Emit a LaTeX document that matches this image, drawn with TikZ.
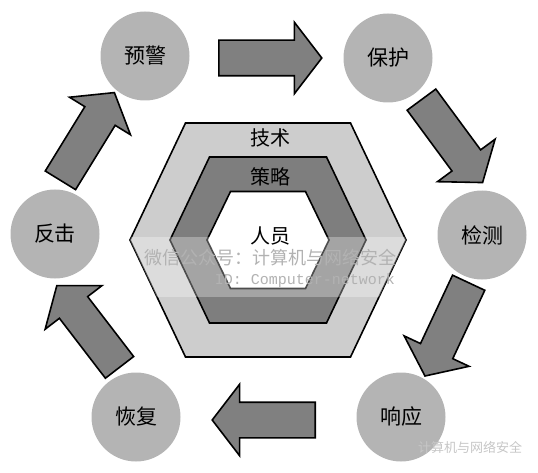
\documentclass[tikz,border=0pt]{standalone}
\usepackage{fontspec}
\setmainfont{Noto Sans CJK SC}
\newfontfamily\monofnt{Liberation Mono}
\usetikzlibrary{shapes.arrows}
\definecolor{stagegray}{HTML}{B4B4B4}
\definecolor{outergray}{HTML}{CDCDCD}
\definecolor{midgray}{HTML}{7E7E7E}
\definecolor{arrowgray}{HTML}{808080}
\tikzset{
   stage/.style={circle,fill=stagegray,minimum size=89,inner sep=0pt,font=\fontsize{21}{25}\selectfont},
   blockarrow/.style={single arrow,draw=black,line width=1.6,fill=arrowgray,minimum height=103,
      single arrow head extend=18,single arrow tip angle=105,inner xsep=0pt,inner ysep=17,anchor=tail},
   layer/.style={draw=black,line width=1.6,line join=miter},
   layerlabel/.style={font=\fontsize{20}{24}\selectfont},
}
\begin{document}
\begin{tikzpicture}[x=1pt,y=1pt]
   \useasboundingbox (0,0) rectangle (538,472);
   % hexagons
   \draw[layer,fill=outergray] (130,232) -- (185.5,349) -- (350.5,349) -- (406,232) -- (350.5,115) -- (185.5,115) -- cycle;
   \draw[layer,fill=midgray] (170,232) -- (209.5,315) -- (326.5,315) -- (366,232) -- (326.5,149) -- (209.5,149) -- cycle;
   \draw[layer,fill=white] (207,232) -- (230.5,280.5) -- (305.5,280.5) -- (329,232) -- (305.5,183.5) -- (230.5,183.5) -- cycle;
   % watermark band
   \begin{scope}
      \clip (130,232) -- (185.5,349) -- (350.5,349) -- (406,232) -- (350.5,115) -- (185.5,115) -- cycle;
      \fill[white,opacity=0.3] (120,175) rectangle (420,235);
   \end{scope}
   \node[layerlabel] (jishu) at (270,334) {技术};
   \node[layerlabel] (celue) at (270,295) {策略};
   \node[layerlabel] (renyuan) at (270,236) {人员};
   \node[gray!60,font=\fontsize{18}{22}\selectfont] (wm1) at (270,214) {微信公众号：计算机与网络安全};
   \node[gray!60,font=\monofnt\fontsize{15}{18}\selectfont] (wm2) at (305,191) {ID: Computer-network};
   % stages
   \node[stage] (yujing) at (145,416) {预警};
   \node[stage] (baohu) at (388,414) {保护};
   \node[stage] (jiance) at (482,237) {检测};
   \node[stage] (xiangying) at (401,55) {响应};
   \node[stage] (huifu) at (136,55) {恢复};
   \node[stage] (fanji) at (55,238) {反击};
   % arrows
   \node[blockarrow,rotate=0] (a1) at (218,414) {};
   \node[blockarrow,rotate=-53.6] (a2) at (421,373) {};
   \node[blockarrow,rotate=-115.1] (a3) at (469,190) {};
   \node[blockarrow,rotate=180] (a4) at (316,52) {};
   \node[blockarrow,rotate=127.5] (a5) at (120,104) {};
   \node[blockarrow,rotate=58.4] (a6) at (60,291) {};
   \node[gray!45,font=\fontsize{13}{16}\selectfont] (wm3) at (470,25) {计算机与网络安全};
\end{tikzpicture}
\end{document}
